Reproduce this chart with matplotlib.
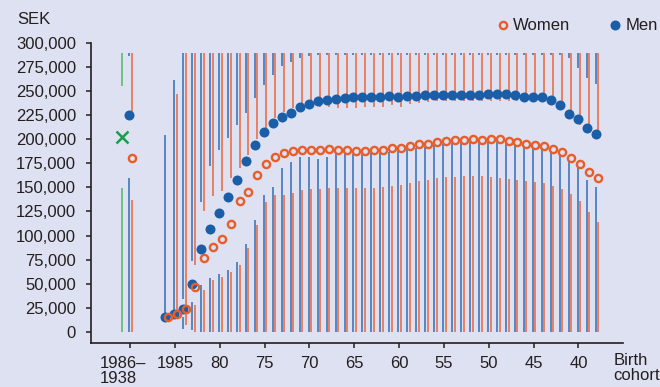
import numpy as np
import matplotlib
matplotlib.use("Agg")
import matplotlib.pyplot as plt
from matplotlib.lines import Line2D
from matplotlib.transforms import ScaledTranslation

# birth cohorts, newest first (values in thousand SEK)
cohorts = list(range(1986, 1937, -1))

men_median = [15.6, 18.1, 23.3, 49.7, 85.8, 107, 123, 140, 158, 177.5, 194, 208, 216.7, 223, 227.8,
              233.7, 236.9, 239.6, 241.4, 242.4, 243.1, 244.1, 244.5, 244.5, 243.8, 244.8, 244.5, 244.8,
              245.5, 246.2, 245.8, 246.2, 246.6, 246.6, 245.8, 245.8, 246.9, 247.6, 247.3, 245.8, 244.5,
              244.5, 244.1, 240.6, 235.4, 226.5, 220.8, 211.9, 205.6]
women_median = [15, 18.4, 23.6, 46.2, 76.8, 88.2, 96.2, 112.2, 136.1, 144.8, 162.5, 174.4, 181.7, 185.4,
                187.5, 189.3, 189.3, 188.5, 190.0, 188.6, 188.6, 187.9, 188.2, 188.9, 188.6, 191.0, 190.7,
                192.7, 194.8, 195.5, 197.3, 197.9, 199.0, 199.0, 200.0, 199.3, 200.4, 200.0, 198.6, 196.9,
                195.2, 193.8, 193.1, 190.0, 186.5, 180.6, 174.7, 166.4, 159.8]

# whiskers: lower from p10 to p25, upper from p75 to p90 (chart cut at 290,000)
men_p10 = [0, 0, 3, 2] + [0] * 45
men_p25 = [0, 0, 15, 31, 48.6, 56, 60, 64, 72, 91, 116, 142, 150, 170, 176, 182, 182, 180, 182,
           185, 185, 185, 185, 186, 186, 187, 188, 190, 191, 192, 194, 195, 196, 196, 197, 197, 197,
           197, 197, 194.5, 192.7, 191, 191, 187.5, 184, 179, 170, 158, 151]
men_p75 = [15, 20, 34, 73, 135, 172, 189, 201, 215, 227, 243, 257, 267, 276, 281, 285, 287, 288, 288] \
    + [288] * 26 + [285, 274, 264, 258]
men_p90 = [205, 262] + [290] * 47

women_p10 = [0, 0, 7] + [0] * 46
women_p25 = [0, 0, 21, 28, 43, 54, 57, 62, 69, 87, 111, 135, 142, 142, 144, 147.6, 148.3, 148.3, 149,
             149.3, 149.3, 149.3, 149.3, 149.3, 150.4, 151.8, 152.8, 154.6, 156.6, 158, 159.8, 160.8,
             161.1, 161.5, 162.2, 161.5, 161, 160, 159, 158, 157, 155.6, 154.6, 152, 148.6, 143.4,
             136, 124, 114]
women_p75 = [np.nan, 20, 28, 69, 125, 141, 146, 160, 170, 184, 200, 212, 222, 229, 233, 234, 234, 234, 234,
             233, 233, 233, 234, 234, 234, 236, 234, 237, 238, 239, 240, 240, 240, 240, 240, 240, 240,
             240, 240, 240, 240, 240, 240, 241, 231, 224, 215, 207, 200]
women_p90 = [np.nan, 247] + [290] * 47

# all cohorts 1986-1938 together: p10, p25, mid, p75, p90
all_men = [0, 160, 225, 287, 290]
all_women = [0, 137, 181, 229, 290]
all_total = [0, 149, 202.5, 256, 290]

tick_pos = [1990, 1985, 1980, 1975, 1970, 1965, 1960, 1955, 1950, 1945, 1940]
tick_labels = ["1986\u2013\n1938", "1985", "80", "75", "70", "65", "60", "55", "50", "45", "40"]

BG = "#dee1f1"
BLUE = "#1b5ea8"
BLUE_LINE = "#3f77bb"
ORANGE = "#e85e2a"
ORANGE_LINE = "#ea7048"
GREEN = "#16a04a"
GREEN_LINE = "#5dba6f"
TXT = "#231f20"

plt.rcParams["font.family"] = ["Liberation Sans", "DejaVu Sans"]
plt.rcParams["font.size"] = 12

fig = plt.figure(figsize=(6.6, 3.87), dpi=100, facecolor=BG)
ax = fig.add_axes([0.1374, 0.1145, 0.807, 0.7736], facecolor=BG)

k = 1000.0
x = np.array(cohorts, dtype=float)
xb = x + 0.09
xo = x - 0.2

MEN_MS = 7.2
WOMEN_MS, WOMEN_MEW = 5.2, 1.7


def whiskers(xs, p10, p25, p75, p90, color):
    p10, p25, p75, p90 = (np.array(a, dtype=float) * k for a in (p10, p25, p75, p90))
    ok = ~np.isnan(p75)
    ax.vlines(xs, p10, p25, color=color, lw=1.2, zorder=1)
    ax.vlines(xs[ok], p75[ok], p90[ok], color=color, lw=1.2, zorder=1)


whiskers(xb, men_p10, men_p25, men_p75, men_p90, BLUE_LINE)
whiskers(xo, women_p10, women_p25, women_p75, women_p90, ORANGE_LINE)

# aggregated group
gx = 1990
for off, vals, col in [(0.93, all_total, GREEN_LINE), (0.09, all_men, BLUE_LINE), (-0.2, all_women, ORANGE_LINE)]:
    ax.vlines(gx + off, vals[0] * k, vals[1] * k, color=col, lw=1.2, zorder=1)
    ax.vlines(gx + off, vals[3] * k, vals[4] * k, color=col, lw=1.2, zorder=1)

ax.plot(xb, np.array(men_median) * k, "o", color=BLUE, ms=MEN_MS, mew=0, zorder=3)
ax.plot(gx + 0.09, all_men[2] * k, "o", color=BLUE, ms=MEN_MS, mew=0, zorder=3)
ax.plot(xo, np.array(women_median) * k, "o", mfc="none", mec=ORANGE, ms=WOMEN_MS, mew=WOMEN_MEW, zorder=4)
ax.plot(gx - 0.2, all_women[2] * k, "o", mfc="none", mec=ORANGE, ms=WOMEN_MS, mew=WOMEN_MEW, zorder=4)
ax.plot(gx + 0.93, all_total[2] * k, "x", color=GREEN, ms=8.5, mew=1.8, zorder=4)

ax.set_xlim(1994.4, 1935.0)
ax.set_ylim(-11500, 300000)
ax.spines["top"].set_visible(False)
ax.spines["right"].set_visible(False)
ax.spines["left"].set_bounds(0 - 11500, 300000)
for s in ("left", "bottom"):
    ax.spines[s].set_linewidth(1.2)
    ax.spines[s].set_color(TXT)

yt = np.arange(0, 300001, 25000)
ax.set_yticks(yt)
ax.set_yticklabels([f"{v:,}" for v in yt])
ax.set_xticks(tick_pos)
ax.set_xticklabels(tick_labels)
ax.tick_params(axis="both", direction="out", length=3.5, width=1.1, colors=TXT, labelsize=12)
ax.tick_params(axis="y", pad=7)
ax.tick_params(axis="x", pad=6)
first = ax.get_xticklabels()[0]
first.set_multialignment("left")
first.set_linespacing(1.0)
first.set_transform(first.get_transform() + ScaledTranslation(-5 / 72, 0, fig.dpi_scale_trans))

fig.text(17.3 / 660, 1 - 12 / 387, "SEK", ha="left", va="top", color=TXT, fontsize=12)
fig.text(613.3 / 660, 1 - 353 / 387, "Birth\ncohort", ha="left", va="top", color=TXT,
         fontsize=12, linespacing=1.0)

handles = [Line2D([], [], ls="none", marker="o", mfc="none", mec=ORANGE, ms=WOMEN_MS, mew=WOMEN_MEW),
           Line2D([], [], ls="none", marker="o", color=BLUE, ms=MEN_MS, mew=0)]
leg = fig.legend(handles, ["Women", "Men"], loc="center left", bbox_to_anchor=(498 / 660, 1 - 26 / 387),
                 ncol=2, frameon=False, handlelength=0.6, handletextpad=0.3, columnspacing=2.4,
                 borderpad=0, borderaxespad=0, fontsize=12)
for t in leg.get_texts():
    t.set_color(TXT)

fig.savefig("out.png", dpi=100, facecolor=BG)
